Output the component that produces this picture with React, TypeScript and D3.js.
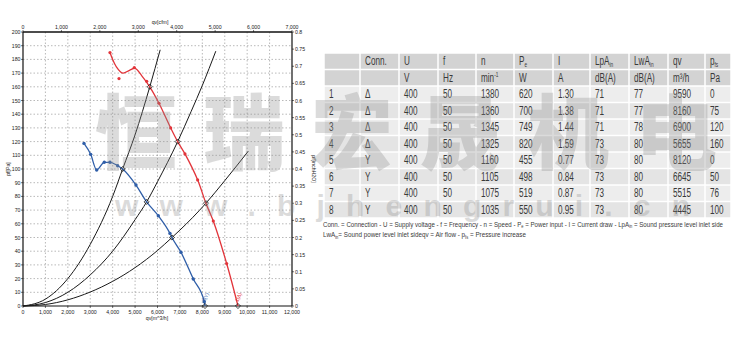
import React from "react";
import * as d3 from "d3";

// ---- chart axes ----
const qvTicks = [0, 1000, 2000, 3000, 4000, 5000, 6000, 7000, 8000, 9000, 10000, 11000, 12000];
const cfmTicks = [0, 1000, 2000, 3000, 4000, 5000, 6000, 7000];
const paTicks = d3.range(0, 201, 10);
const inchTicks = [0, 0.05, 0.1, 0.15, 0.2, 0.25, 0.3, 0.35, 0.4, 0.45, 0.5, 0.55, 0.6, 0.65, 0.7, 0.75, 0.8];

// ---- fan curves (qv m3/h, pf Pa) ----
const redLineQ = [3880, 4150, 4450, 4750, 5000, 5300, 5655, 6066, 6588, 6900, 7226, 7792, 8160, 8489, 9085, 9590];
const redLineP = [185, 175, 170, 172, 173.5, 168, 160, 148, 130, 120, 111, 92, 75, 62, 31, 0];
const redPtsQ = [3880, 4282, 4965, 5517, 6066, 6588, 7226, 7792, 8489, 9085];
const redPtsP = [185, 166, 174, 164, 148, 130, 111, 92, 62, 31];

const blueLineQ = [2721, 3019, 3287, 3626, 3880, 4223, 4445, 5040, 5515, 6036, 6557, 6645, 7047, 7597, 8087, 8120];
const blueLineP = [118.7, 110.7, 99.3, 104.9, 104.9, 102.4, 100, 88.3, 76, 65.9, 53, 50, 39.2, 19.7, 3.1, 0];
const bluePtsQ = [2721, 3019, 3287, 3626, 3880, 4223, 5040, 6036, 6557, 7047, 7597, 8087];
const bluePtsP = [118.7, 110.7, 99.3, 104.9, 104.9, 102.4, 88.3, 65.9, 53, 39.2, 19.7, 3.1];

// system resistance curves
const sysAQ = [0, 1000, 2000, 3000, 4000, 4445, 5000, 5655, 6120];
const sysAP = [0, 5, 20, 45, 80, 100, 125, 160, 187];
const sysBQ = [0, 1000, 2000, 3000, 4000, 5000, 5515, 6000, 6900, 7500, 8000, 8600];
const sysBP = [0, 2.5, 10, 22.7, 40, 63, 76, 90.7, 120, 142, 161, 186];
const sysCQ = [0, 1000, 2000, 3000, 4000, 5000, 6000, 6645, 7000, 8160, 9000, 10050];
const sysCP = [0, 1.1, 4.5, 10.2, 18, 28, 40.5, 50, 55.4, 75, 91.5, 113];

// ---- table ----
const rowNo = ["1", "2", "3", "4", "5", "6", "7", "8"];
const conn = ["Δ", "Δ", "Δ", "Δ", "Y", "Y", "Y", "Y"];
const voltage = ["400", "400", "400", "400", "400", "400", "400", "400"];
const freq = ["50", "50", "50", "50", "50", "50", "50", "50"];
const speed = ["1380", "1360", "1345", "1325", "1160", "1105", "1075", "1035"];
const power = ["620", "700", "749", "820", "455", "498", "519", "550"];
const current = ["1.30", "1.38", "1.44", "1.59", "0.77", "0.84", "0.87", "0.95"];
const lpa = ["71", "71", "71", "73", "73", "73", "73", "73"];
const lwa = ["77", "77", "78", "80", "80", "80", "80", "80"];
const airflow = [9590, 8160, 6900, 5655, 8120, 6645, 5515, 4445];
const pressure = [0, 75, 120, 160, 0, 50, 76, 100];
const unitRow = ["", "", "V", "Hz", "min", "W", "A", "dB(A)", "dB(A)", "m³/h", "Pa"];

const W = 750, H = 348;
const PL = 23, PR = 292, PT = 32, PB = 306;

const x = d3.scaleLinear().domain([0, 12000]).range([PL, PR]);
const xTop = d3.scaleLinear().domain([0, 7000]).range([PL, PR]);
const y = d3.scaleLinear().domain([0, 200]).range([PB, PT]);
const yR = d3.scaleLinear().domain([0, 0.8]).range([PB, PT]);
const fmt = d3.format(",");

const zip = (a: number[], b: number[]) => a.map((v, i) => [v, b[i]] as [number, number]);
const smooth = d3.line<[number, number]>().x(d => x(d[0])).y(d => y(d[1])).curve(d3.curveCatmullRom.alpha(0.5));
const mono = d3.line<[number, number]>().x(d => x(d[0])).y(d => y(d[1])).curve(d3.curveMonotoneX);

const colX = [324, 360, 399, 438, 476, 514, 553, 590, 629, 668, 705, 731];
const T0 = 53, HR = 16.5;

const RED = "#e2343a";
const BLUE = "#2f5ea8";
const TXT = "#3a3a3a";

function Cond({ x: tx, y: ty, children, size = 12 }: any) {
  return (
    <text transform={`translate(${tx},${ty}) scale(0.68,1)`} fontSize={size} fill={TXT}
      fontFamily="Liberation Sans, Arial, sans-serif" dominantBaseline="central">
      {children}
    </text>
  );
}

export default function App() {
  const rowsData = rowNo.map((r, i) => [r, conn[i], voltage[i], freq[i], speed[i], power[i], current[i], lpa[i], lwa[i], String(airflow[i]), String(pressure[i])]);
  const sub = (s: string) => <tspan fontSize={7} dy={3}>{s}</tspan>;
  const header: any[] = [
    "", "Conn.", "U", "f", "n",
    <>P{sub("e")}</>, "I",
    <>LpA{sub("in")}</>, <>LwA{sub("in")}</>, "qv",
    <>p{sub("fs")}</>,
  ];
  const tickFont = { fontSize: 5.2, fill: "#222", fontFamily: "Liberation Sans, Arial, sans-serif" };

  return (
    <svg width={W} height={H} style={{ position: "absolute", left: 0, top: 0, background: "#fff" }}>
      {/* grid */}
      <g stroke="#8a8a8a" strokeWidth={0.6} strokeDasharray="1.5,2">
        {qvTicks.slice(1, -1).map(t => <line key={"gx" + t} x1={x(t)} x2={x(t)} y1={PT} y2={PB} />)}
        {paTicks.slice(1, -1).map(t => <line key={"gy" + t} x1={PL} x2={PR} y1={y(t)} y2={y(t)} />)}
      </g>
      {/* axes box */}
      <g stroke="#111" fill="none">
        <line x1={PL} x2={PR} y1={PT} y2={PT} strokeWidth={1.4} />
        <line x1={PL} x2={PR} y1={PB} y2={PB} strokeWidth={1.2} />
        <line x1={PL} x2={PL} y1={PT} y2={PB} strokeWidth={1.2} />
        <line x1={PR} x2={PR} y1={PT} y2={PB} strokeWidth={1.2} />
        {paTicks.map(t => <line key={"lt" + t} x1={PL - 2} x2={PL} y1={y(t)} y2={y(t)} strokeWidth={0.6} />)}
        {inchTicks.map(t => <line key={"rt" + t} x1={PR} x2={PR + 2} y1={yR(t)} y2={yR(t)} strokeWidth={0.6} />)}
        {qvTicks.map(t => <line key={"bt" + t} x1={x(t)} x2={x(t)} y1={PB} y2={PB + 2} strokeWidth={0.6} />)}
        {cfmTicks.map(t => <line key={"tt" + t} x1={xTop(t)} x2={xTop(t)} y1={PT - 2} y2={PT} strokeWidth={0.6} />)}
      </g>
      {/* tick labels */}
      <g {...tickFont}>
        {paTicks.map(t => <text key={"ly" + t} x={PL - 2.5} y={y(t)} textAnchor="end" dominantBaseline="central">{t}</text>)}
        {inchTicks.map(t => <text key={"ry" + t} x={PR + 3} y={yR(t)} dominantBaseline="central">{t === 0 ? "0" : String(+t.toFixed(2))}</text>)}
        {qvTicks.map(t => <text key={"bx" + t} x={x(t)} y={PB + 6} textAnchor="middle" dominantBaseline="central">{fmt(t)}</text>)}
        {cfmTicks.map(t => <text key={"tx" + t} x={xTop(t)} y={PT - 5} textAnchor="middle" dominantBaseline="central">{fmt(t)}</text>)}
        <text x={157} y={PB + 12} textAnchor="middle" dominantBaseline="central">qv[m^3/h]</text>
        <text x={160} y={22} textAnchor="middle" dominantBaseline="central">qv[cfm]</text>
        <text transform={`translate(8,${(PT + PB) / 2}) rotate(-90)`} textAnchor="middle" dominantBaseline="central">pf[Pa]</text>
        <text transform={`translate(314,${(PT + PB) / 2}) rotate(90)`} textAnchor="middle" dominantBaseline="central">pf[inchH2O]</text>
      </g>
      {/* system curves */}
      <g fill="none" stroke="#1a1a1a" strokeWidth={1}>
        <path d={mono(zip(sysAQ, sysAP)) || ""} />
        <path d={mono(zip(sysBQ, sysBP)) || ""} />
        <path d={mono(zip(sysCQ, sysCP)) || ""} />
      </g>
      {/* fan curves */}
      <path d={smooth(zip(redLineQ, redLineP)) || ""} fill="none" stroke={RED} strokeWidth={1.3} />
      <path d={mono(zip(blueLineQ, blueLineP)) || ""} fill="none" stroke={BLUE} strokeWidth={1.3} />
      {zip(redPtsQ, redPtsP).map((d, i) => <circle key={"rp" + i} cx={x(d[0])} cy={y(d[1])} r={1.6} fill={RED} />)}
      {zip(bluePtsQ, bluePtsP).map((d, i) => <circle key={"bp" + i} cx={x(d[0])} cy={y(d[1])} r={1.7} fill={BLUE} />)}
      {zip(airflow, pressure).map((d, i) => (
        <rect key={"op" + i} x={x(d[0]) - 1.8} y={y(d[1]) - 1.8} width={3.6} height={3.6}
          transform={`rotate(45,${x(d[0])},${y(d[1])})`} fill="none" stroke="#111" strokeWidth={0.7} />
      ))}
      <text transform={`translate(${x(8120) + 2},${PB - 8}) rotate(-65)`} fontSize={5} fill={BLUE}
        fontFamily="Liberation Sans, Arial, sans-serif" textAnchor="middle">5(Y)</text>
      <text transform={`translate(${x(9590) + 2},${PB - 8}) rotate(-65)`} fontSize={5} fill={RED}
        fontFamily="Liberation Sans, Arial, sans-serif" textAnchor="middle">1(Δ)</text>

      {/* table */}
      <g>
        {[0, 1].map(r => colX.slice(0, -1).map((cx, c) => (
          <rect key={`h${r}-${c}`} x={cx + 0.75} y={T0 + r * HR + 0.75} width={colX[c + 1] - cx - 1.5} height={HR - 1.5} fill="#d3d3d3" />
        )))}
        {rowsData.map((_, r) => colX.slice(0, -1).map((cx, c) => (
          <rect key={`d${r}-${c}`} x={cx + 0.75} y={T0 + (r + 2) * HR + 0.75} width={colX[c + 1] - cx - 1.5} height={HR - 1.5}
            fill={r % 2 === 0 ? "#ededed" : "#e4e4e4"} />
        )))}
        {header.map((h, c) => <Cond key={"ht" + c} x={colX[c] + 5} y={T0 + HR / 2}>{h}</Cond>)}
        {unitRow.map((h, c) => (
          <Cond key={"ut" + c} x={colX[c] + 5} y={T0 + HR * 1.5}>
            {c === 4 ? <>{h}<tspan fontSize={7} dy={-3}>-1</tspan></> : h}
          </Cond>
        ))}
        {rowsData.map((row, r) => row.map((v, c) => (
          <Cond key={`t${r}-${c}`} x={colX[c] + 5} y={T0 + (r + 2) * HR + HR / 2}>{v}</Cond>
        )))}
        <text x={323} y={226.5} fontSize={7} fill={TXT} fontFamily="Liberation Sans, Arial, sans-serif"
          textLength={400} lengthAdjust="spacingAndGlyphs">
          Conn. = Connection - U = Supply voltage - f = Frequency - n = Speed - P<tspan fontSize={4.5} dy={1.5}>e</tspan><tspan dy={-1.5}> = Power input - I = Current draw - LpA</tspan><tspan fontSize={4.5} dy={1.5}>in</tspan><tspan dy={-1.5}> = Sound pressure level inlet side</tspan>
        </text>
        <text x={323} y={237} fontSize={7} fill={TXT} fontFamily="Liberation Sans, Arial, sans-serif"
          textLength={203} lengthAdjust="spacingAndGlyphs">
          LwA<tspan fontSize={4.5} dy={1.5}>in</tspan><tspan dy={-1.5}>= Sound power level inlet sideqv = Air flow - p</tspan><tspan fontSize={4.5} dy={1.5}>fs</tspan><tspan dy={-1.5}> = Pressure increase</tspan>
        </text>
      </g>

      {/* watermark */}
      <g fill="#8c8c8c" opacity={0.3}>
        <text x={95} y={163} fontSize={82} fontWeight="900" fontFamily="Noto Sans CJK SC, sans-serif"
          textLength={622} lengthAdjust="spacing">恒瑞宏晟机电</text>
        <text x={115} y={216} fontSize={30} fontWeight="bold" fontFamily="Liberation Sans, Arial, sans-serif"
          textLength={575} lengthAdjust="spacing">www.bjhengrui.cn</text>
      </g>
    </svg>
  );
}
